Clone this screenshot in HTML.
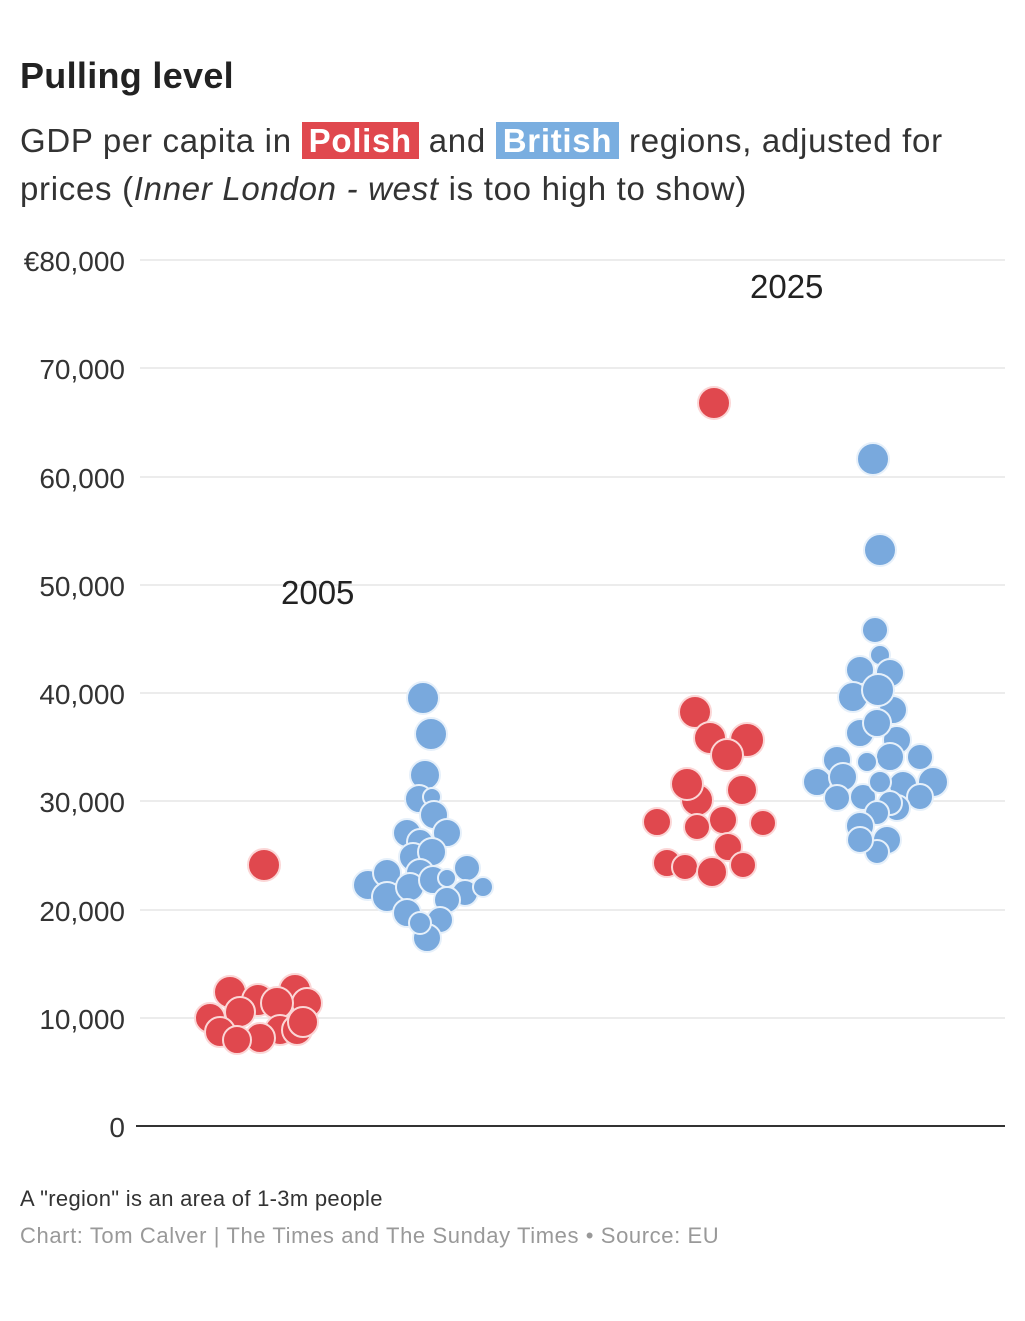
<!DOCTYPE html><html><head><style>
body{margin:0;width:1025px;height:1321px;background:#fff;font-family:"Liberation Sans",sans-serif;position:relative;overflow:hidden}
.t{position:absolute;left:20px;top:55px;font-size:36px;font-weight:bold;color:#222;letter-spacing:0.3px}
.s{position:absolute;left:20px;top:117px;font-size:33px;line-height:48px;color:#333;letter-spacing:0.7px}
.r{background:#e0484e;color:#fff;font-weight:bold;padding:0 7px}
.b{background:#7aaee0;color:#fff;font-weight:bold;padding:0 7px}
.f1{position:absolute;left:20px;top:1186px;font-size:22px;color:#333;letter-spacing:0.3px}
.f2{position:absolute;left:20px;top:1223px;font-size:22px;color:#999;letter-spacing:0.6px}
</style></head><body>
<div class="t">Pulling level</div>
<div class="s">GDP per capita in <span class="r">Polish</span> and <span class="b">British</span> regions, adjusted for<br>prices (<i>Inner London - west</i> is too high to show)</div>
<svg width="1025" height="1321" style="position:absolute;left:0;top:0">
<g stroke="#e6e6e6" stroke-width="1.5">
<line x1="140" x2="1005" y1="260" y2="260"/><line x1="140" x2="1005" y1="368" y2="368"/><line x1="140" x2="1005" y1="477" y2="477"/><line x1="140" x2="1005" y1="585" y2="585"/><line x1="140" x2="1005" y1="693" y2="693"/><line x1="140" x2="1005" y1="801" y2="801"/><line x1="140" x2="1005" y1="910" y2="910"/><line x1="140" x2="1005" y1="1018" y2="1018"/></g>
<line x1="136" x2="1005" y1="1126" y2="1126" stroke="#333" stroke-width="2"/>
<g font-size="28" fill="#333" text-anchor="end" font-family="Liberation Sans">
<text x="125" y="271">€80,000</text><text x="125" y="379">70,000</text><text x="125" y="488">60,000</text><text x="125" y="596">50,000</text><text x="125" y="704">40,000</text><text x="125" y="812">30,000</text><text x="125" y="921">20,000</text><text x="125" y="1029">10,000</text><text x="125" y="1137">0</text></g>
<text x="281" y="604" font-size="33" fill="#222">2005</text>
<text x="750" y="298" font-size="33" fill="#222">2025</text>
<g fill="#e0484e" stroke="#fbd6d6" stroke-width="2">
<circle cx="264" cy="865" r="16"/><circle cx="714" cy="403" r="16"/>
<circle cx="230" cy="992" r="16"/><circle cx="295" cy="990" r="16"/><circle cx="258" cy="1000" r="16"/><circle cx="307" cy="1003" r="15"/><circle cx="277" cy="1003" r="16"/><circle cx="210" cy="1018" r="15"/><circle cx="240" cy="1012" r="15"/><circle cx="220" cy="1032" r="15"/><circle cx="280" cy="1030" r="15"/><circle cx="260" cy="1038" r="15"/><circle cx="237" cy="1040" r="14"/><circle cx="297" cy="1030" r="15"/><circle cx="303" cy="1022" r="15"/>
<circle cx="695" cy="712" r="16"/><circle cx="710" cy="738" r="16"/><circle cx="747" cy="740" r="17"/><circle cx="727" cy="755" r="16"/><circle cx="697" cy="800" r="16"/><circle cx="687" cy="784" r="16"/><circle cx="742" cy="790" r="15"/><circle cx="657" cy="822" r="14"/><circle cx="723" cy="820" r="14"/><circle cx="697" cy="827" r="13"/><circle cx="763" cy="823" r="13"/><circle cx="728" cy="847" r="14"/><circle cx="667" cy="863" r="14"/><circle cx="685" cy="867" r="13"/><circle cx="743" cy="865" r="13"/><circle cx="712" cy="872" r="15"/>
</g>
<g fill="#79a9dd" stroke="#e6f0fa" stroke-width="2">
<circle cx="423" cy="698" r="16"/><circle cx="431" cy="734" r="16"/><circle cx="425" cy="775" r="15"/><circle cx="419" cy="799" r="14"/><circle cx="432" cy="797" r="9"/><circle cx="434" cy="815" r="14"/><circle cx="407" cy="833" r="14"/><circle cx="447" cy="833" r="14"/><circle cx="420" cy="842" r="13"/><circle cx="413" cy="857" r="14"/><circle cx="432" cy="852" r="14"/><circle cx="368" cy="885" r="15"/><circle cx="387" cy="873" r="14"/><circle cx="420" cy="873" r="14"/><circle cx="467" cy="868" r="13"/><circle cx="387" cy="897" r="15"/><circle cx="410" cy="887" r="14"/><circle cx="433" cy="880" r="14"/><circle cx="447" cy="878" r="9"/><circle cx="465" cy="893" r="13"/><circle cx="483" cy="887" r="10"/><circle cx="447" cy="900" r="13"/><circle cx="407" cy="913" r="14"/><circle cx="440" cy="920" r="13"/><circle cx="427" cy="938" r="14"/><circle cx="420" cy="923" r="11"/>
<circle cx="873" cy="459" r="16"/><circle cx="880" cy="550" r="16"/>
<circle cx="875" cy="630" r="13"/><circle cx="880" cy="655" r="10"/><circle cx="860" cy="670" r="14"/><circle cx="890" cy="673" r="14"/><circle cx="853" cy="697" r="15"/><circle cx="893" cy="710" r="14"/><circle cx="878" cy="690" r="16"/><circle cx="860" cy="733" r="14"/><circle cx="897" cy="740" r="14"/><circle cx="877" cy="723" r="14"/><circle cx="837" cy="760" r="14"/><circle cx="890" cy="757" r="14"/><circle cx="920" cy="757" r="13"/><circle cx="867" cy="762" r="10"/><circle cx="817" cy="782" r="14"/><circle cx="843" cy="777" r="14"/><circle cx="903" cy="785" r="14"/><circle cx="933" cy="782" r="15"/><circle cx="837" cy="798" r="13"/><circle cx="920" cy="797" r="13"/><circle cx="863" cy="797" r="13"/><circle cx="897" cy="808" r="13"/><circle cx="880" cy="782" r="11"/><circle cx="890" cy="803" r="12"/><circle cx="877" cy="813" r="12"/><circle cx="860" cy="826" r="14"/><circle cx="887" cy="840" r="14"/><circle cx="877" cy="852" r="12"/><circle cx="860" cy="840" r="13"/>
</g>
</svg>
<div class="f1">A "region" is an area of 1-3m people</div>
<div class="f2">Chart: Tom Calver | The Times and The Sunday Times • Source: EU</div>
</body></html>
